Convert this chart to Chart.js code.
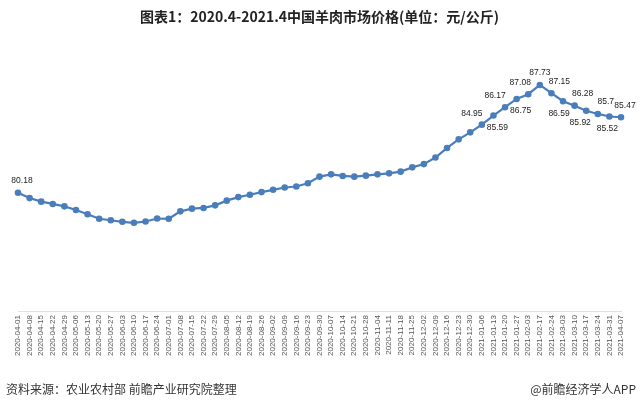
<!DOCTYPE html>
<html><head><meta charset="utf-8">
<script src="https://cdn.jsdelivr.net/npm/chart.js@4"></script>
<style>html,body{margin:0;padding:0;background:#fff}#w{width:640px;height:408px}</style>
</head><body><div id="w"><canvas id="c"></canvas></div>
<script>
const dates=["2020-04-01","2020-04-08","2020-04-15","2020-04-22","2020-04-29","2020-05-06","2020-05-13","2020-05-20","2020-05-27","2020-06-03","2020-06-10","2020-06-17","2020-06-24","2020-07-01","2020-07-08","2020-07-15","2020-07-22","2020-07-29","2020-08-05","2020-08-12","2020-08-19","2020-08-26","2020-09-02","2020-09-09","2020-09-16","2020-09-23","2020-09-30","2020-10-07","2020-10-14","2020-10-21","2020-10-28","2020-11-04","2020-11-11","2020-11-18","2020-11-25","2020-12-02","2020-12-09","2020-12-16","2020-12-23","2020-12-30","2021-01-06","2021-01-13","2021-01-20","2021-01-27","2021-02-03","2021-02-17","2021-02-24","2021-03-03","2021-03-10","2021-03-17","2021-03-24","2021-03-31","2021-04-07"];
const prices=[80.18,79.81,79.56,79.40,79.23,78.98,78.68,78.36,78.26,78.15,78.08,78.17,78.38,78.36,78.88,79.07,79.12,79.30,79.63,79.88,80.04,80.23,80.39,80.55,80.62,80.85,81.31,81.47,81.36,81.31,81.38,81.47,81.54,81.66,81.96,82.19,82.65,83.32,83.92,84.41,84.95,85.59,86.17,86.75,87.08,87.73,87.15,86.59,86.28,85.92,85.7,85.52,85.47];
const labelIdx=[0,40,41,42,43,44,45,46,47,48,49,50,51,52];
const labelOff={0:[4,-12],40:[-10,-11],41:[4,12],42:[-10,-12],43:[4,12],44:[-8,-12],45:[0,-12],46:[8,-12],47:[-4,12],48:[8,-12],49:[-6,12],50:[8,-12],51:[-2,12],52:[4,-12]};
const annot={id:'annot',afterDatasetsDraw(ch){
  const ctx=ch.ctx,meta=ch.getDatasetMeta(0);
  ctx.save();ctx.font='8.5px "Liberation Sans", Arial, sans-serif';ctx.fillStyle='#222';ctx.textAlign='center';ctx.textBaseline='middle';
  labelIdx.forEach(i=>{const p=meta.data[i];const o=labelOff[i];ctx.fillText(String(prices[i]),p.x+o[0],p.y+o[1]);});
  ctx.font='12px "Noto Sans CJK SC", sans-serif';ctx.fillStyle='#333';ctx.textAlign='left';
  ctx.fillText('资料来源：农业农村部 前瞻产业研究院整理',6,389);
  ctx.textAlign='right';ctx.fillText('@前瞻经济学人APP',636,389);
  ctx.restore();
}};
new Chart(document.getElementById('c'),{type:'line',
 data:{labels:dates,datasets:[{data:prices,borderColor:'#4a7ebb',borderWidth:2.2,pointRadius:2.2,pointBackgroundColor:'#4a7ebb',pointBorderColor:'#4a7ebb',tension:0}]},
 options:{responsive:true,maintainAspectRatio:false,animation:false,
  layout:{padding:{left:18,right:19,top:0,bottom:48}},
  plugins:{legend:{display:false},tooltip:{enabled:false},
   title:{display:true,text:'图表1：2020.4-2021.4中国羊肉市场价格(单位：元/公斤)',font:{family:'"Noto Sans CJK SC", sans-serif',size:14,weight:'bold'},color:'#222',padding:{top:8,bottom:12}}},
  scales:{
   x:{offset:false,grid:{display:false,drawTicks:false},border:{color:'#e0e0e0'},
      ticks:{autoSkip:false,maxRotation:90,minRotation:90,font:{size:8,family:'"Liberation Sans", Arial'},color:'#555',padding:4}},
   y:{display:false,min:71.9,max:91.1}
  }}, plugins:[annot]});
</script></body></html>
